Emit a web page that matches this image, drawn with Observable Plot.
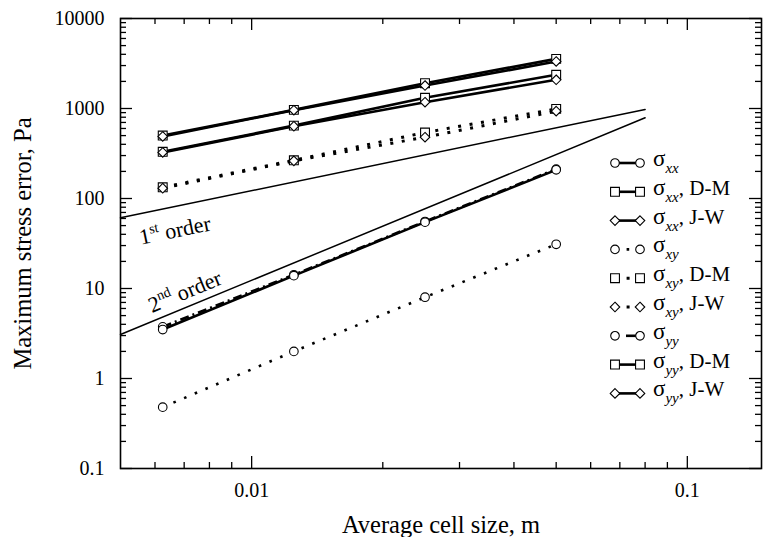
<!DOCTYPE html>
<html><head><meta charset="utf-8">
<script src="https://cdn.jsdelivr.net/npm/d3@7"></script>
<script src="https://cdn.jsdelivr.net/npm/@observablehq/plot@0.6"></script>
<style>
body{margin:0;background:#fff;}
#chart{width:765px;height:537px;}
</style></head><body><div id="chart"></div>
<script>
// ---- data ----
const cellSize = [0.00625, 0.0125, 0.025, 0.05];
const sxx   = [3.5, 13.9, 54.6, 208];
const sxxDM = [500, 965, 1910, 3560];
const sxxJW = [489, 957, 1800, 3330];
const sxy   = [0.48, 2.0, 8.0, 31];
const sxyDM = [133, 266, 541, 990];
const sxyJW = [130, 262, 480, 934];
const syy   = [3.75, 14.2, 55.5, 212];
const syyDM = [330, 645, 1315, 2370];
const syyJW = [325, 635, 1175, 2085];

const seriesNames = ["sxx","sxxDM","sxxJW","sxy","sxyDM","sxyJW","syy","syyDM","syyJW"];
const seriesValues = [sxx,sxxDM,sxxJW,sxy,sxyDM,sxyJW,syy,syyDM,syyJW];
const seriesSub = ["xx","xx","xx","xy","xy","xy","yy","yy","yy"];
const seriesSuffix = ["",", D-M",", J-W","",", D-M",", J-W","",", D-M",", J-W"];

// reference slope lines (endpoints)
const order1 = [{x:0.005, y:61}, {x:0.08, y:976}];
const order2 = [{x:0.005, y:3.08}, {x:0.08, y:788}];
const orderLabelX = [0.00667, 0.00703];
const orderLabelText = ["1st order", "2nd order"];

const xMajor = [0.01, 0.1];
const xMinor = [0.006,0.007,0.008,0.009,0.02,0.03,0.04,0.05,0.06,0.07,0.08,0.09];
const yMajor = [0.1, 1, 10, 100, 1000, 10000];
const yMinor = [];
for (const d of [0.1,1,10,100,1000]) for (let k=2;k<=9;k++) yMinor.push(+(d*k).toPrecision(3));

const xTitle = "Average cell size, m";
const yTitle = "Maximum stress error, Pa";

// ---- styles (separate from data) ----
const FONT = '"Liberation Serif","Times New Roman",serif';
const styles = {
  sxx:   {symbol:"circle",   dash:null,    width:2.6},
  sxxDM: {symbol:"square",   dash:null,    width:2.6},
  sxxJW: {symbol:"diamond2", dash:null,    width:2.6},
  sxy:   {symbol:"circle",   dash:"2.6,9", width:2.6},
  sxyDM: {symbol:"square",   dash:"3,8.6", width:3},
  sxyJW: {symbol:"diamond2", dash:"3,8.6", width:3},
  syy:   {symbol:"circle",   dash:"9,4,2,4", width:2.6},
  syyDM: {symbol:"square",   dash:null,    width:2.6},
  syyJW: {symbol:"diamond2", dash:null,    width:2.6}
};
const symR = {circle:4.3, square:5, diamond2:4.3};

const rows = [];
seriesNames.forEach((s,i) => seriesValues[i].forEach((v,j) => rows.push({series:s, x:cellSize[j], y:v})));

const W=765, H=537, mL=120, mR=4, mT=18, mB=69;
const xDom = [0.005, 0.148], yDom = [0.1, 10000];
const plotW = W-mL-mR, plotH = H-mT-mB;
const pxDecX = plotW/Math.log10(xDom[1]/xDom[0]);
const pxDecY = plotH/Math.log10(yDom[1]/yDom[0]);

function onLine(line, x) {
  const [a,b] = line;
  const t = Math.log10(x/a.x)/Math.log10(b.x/a.x);
  return Math.pow(10, Math.log10(a.y) + t*Math.log10(b.y/a.y));
}
function angleOf(line) {
  const [a,b] = line;
  const n = Math.log10(b.y/a.y)/Math.log10(b.x/a.x);
  return -Math.atan(n*pxDecY/pxDecX)*180/Math.PI;
}
const lab1 = [{x:orderLabelX[0], y:onLine(order1, orderLabelX[0]), text:orderLabelText[0], angle:angleOf(order1)}];
const lab2 = [{x:orderLabelX[1], y:onLine(order2, orderLabelX[1]), text:orderLabelText[1], angle:angleOf(order2)}];

const lineMarks = seriesNames.map(s => Plot.line(rows.filter(r=>r.series===s), {
  x:"x", y:"y", stroke:"#000", strokeWidth:styles[s].width,
  strokeDasharray: styles[s].dash || undefined, strokeLinecap:"butt"
}));
const dotOrder = ["sxyDM","sxxDM","syyDM","sxyJW","sxxJW","syyJW","sxy","syy","sxx"];
const dotMarks = dotOrder.map(s => Plot.dot(rows.filter(r=>r.series===s), {
  x:"x", y:"y", symbol: styles[s].symbol, r: symR[styles[s].symbol],
  fill:"#fff", stroke:"#000", strokeWidth:1.1
}));

const plot = Plot.plot({
  width:W, height:H, marginLeft:mL, marginRight:mR, marginTop:mT, marginBottom:mB,
  style:{fontFamily:FONT, fontSize:"20px", color:"#000", background:"#fff"},
  x:{type:"log", domain:xDom},
  y:{type:"log", domain:yDom},
  marks:[
    // inward ticks
    Plot.ruleX(xMajor, {x:d=>d, insetTop:plotH-12, strokeWidth:1.3}),
    Plot.ruleX(xMajor, {x:d=>d, insetBottom:plotH-12, strokeWidth:1.3}),
    Plot.ruleX(xMinor, {x:d=>d, insetTop:plotH-6, strokeWidth:1.3}),
    Plot.ruleX(xMinor, {x:d=>d, insetBottom:plotH-6, strokeWidth:1.3}),
    Plot.ruleY(yMajor, {y:d=>d, insetRight:plotW-12, strokeWidth:1.3}),
    Plot.ruleY(yMajor, {y:d=>d, insetLeft:plotW-12, strokeWidth:1.3}),
    Plot.ruleY(yMinor, {y:d=>d, insetRight:plotW-6, strokeWidth:1.3}),
    Plot.ruleY(yMinor, {y:d=>d, insetLeft:plotW-6, strokeWidth:1.3}),
    Plot.frame({stroke:"#000", strokeWidth:1.6}),
    Plot.axisX({ticks:xMajor, tickSize:0, tickPadding:14, tickFormat:d=>String(d), label:null, fontSize:20, fontFamily:FONT}),
    Plot.axisY({ticks:yMajor, tickSize:0, tickPadding:16, tickFormat:d=>String(d), label:null, fontSize:20, fontFamily:FONT}),
    Plot.line(order1, {x:"x", y:"y", stroke:"#000", strokeWidth:1.5}),
    Plot.line(order2, {x:"x", y:"y", stroke:"#000", strokeWidth:1.5}),
    ...lineMarks,
    ...dotMarks,
    Plot.text(lab1, {x:"x", y:"y", text:"text", rotate:"angle", dy:24, fontSize:22, fontFamily:FONT, textAnchor:"middle", lineAnchor:"middle"}),
    Plot.text(lab2, {x:"x", y:"y", text:"text", rotate:"angle", dy:-16, fontSize:22, fontFamily:FONT, textAnchor:"middle", lineAnchor:"middle"}),
    Plot.text([xTitle], {text:d=>d, frameAnchor:"bottom", dy:57, fontSize:24.5, fontFamily:FONT, textAnchor:"middle", lineAnchor:"middle"}),
    Plot.text([yTitle], {text:d=>d, frameAnchor:"left", dx:-97, rotate:-90, fontSize:24.5, fontFamily:FONT, textAnchor:"middle", lineAnchor:"middle"})
  ]
});

const svg = d3.select(plot);
// superscripts in order labels
svg.selectAll("text").each(function(){
  const m = this.textContent.match(/^(\d)(st|nd) (.*)$/);
  if (!m) return;
  const t = d3.select(this); t.text(null);
  t.append("tspan").text(m[1]);
  t.append("tspan").attr("font-size", 14).attr("dy", -9).text(m[2]);
  t.append("tspan").attr("dy", 9).text("\u00a0" + m[3]);
});

// legend
const symFn = {circle:d3.symbolCircle, square:d3.symbolSquare, diamond2:d3.symbolDiamond2};
const lg = svg.append("g").attr("font-family", FONT).attr("text-anchor","start");
seriesNames.forEach((s,i) => {
  const y = 163 + i*28.8;
  const st = styles[s];
  const g = lg.append("g");
  g.append("line").attr("x1", s==="syy" ? 626 : 615).attr("x2",640).attr("y1",y).attr("y2",y)
    .attr("stroke","#000").attr("stroke-width",st.width)
    .attr("stroke-dasharray", s==="syy" ? null : st.dash);
  const r = symR[st.symbol];
  for (const x of [615,640]) {
    g.append("path").attr("transform",`translate(${x},${y})`)
      .attr("d", d3.symbol(symFn[st.symbol], Math.PI*r*r)())
      .attr("fill","#fff").attr("stroke","#000").attr("stroke-width",1.1);
  }
  const t = g.append("text").attr("x",653).attr("y",y+3).attr("fill","#000").attr("text-anchor","start");
  t.append("tspan").attr("font-size",23).text("\u03c3");
  t.append("tspan").attr("font-size",15).attr("font-style","italic").attr("dy",7).text(seriesSub[i]);
  if (seriesSuffix[i]) t.append("tspan").attr("font-size",21).attr("dy",-7).text(seriesSuffix[i]);
});

document.getElementById("chart").appendChild(plot);
</script></body></html>
